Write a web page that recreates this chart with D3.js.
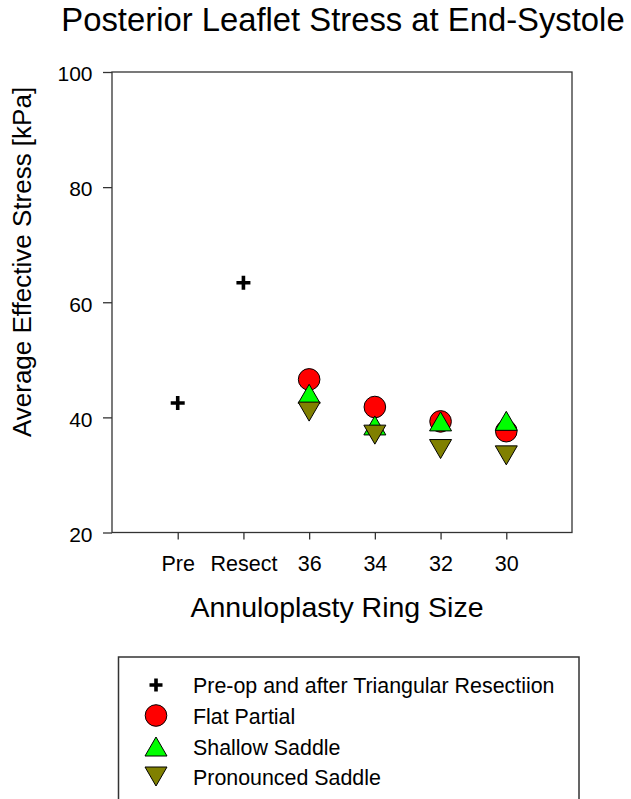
<!DOCTYPE html>
<html><head><meta charset="utf-8">
<script src="https://cdn.jsdelivr.net/npm/d3@7"></script>
<style>body{margin:0;background:#fff}svg{display:block}text{font-family:"Liberation Sans",Arial,sans-serif;fill:#000}</style>
</head><body>
<script>
const categories = ["Pre","Resect","36","34","32","30"];
const crossValues = [42.5, 63.4, null, null, null, null];
const flatPartial = [null, null, 46.6, 41.8, 39.3, 37.6];
const shallowSaddle = [null, null, 44.1, 38.6, 39.3, 39.4];
const pronouncedSaddle = [null, null, 41.0, 37.0, 34.5, 33.4];
const yTicks = [20, 40, 60, 80, 100];
const legendLabels = ["Pre-op and after Triangular Resectiion","Flat Partial","Shallow Saddle","Pronounced Saddle"];

const W = 631, H = 799;
const svg = d3.select("body").append("svg").attr("width", W).attr("height", H);
const L = 112, R = 572, T = 72, B = 532.5;
const x = d3.scaleLinear().domain([-1, categories.length]).range([L, R]);
const y = d3.scaleLinear().domain([20, 100]).range([B, T]);

// frame
svg.append("rect").attr("x", L).attr("y", T).attr("width", R - L).attr("height", B - T)
  .attr("fill", "none").attr("stroke", "#333").attr("stroke-width", 1.3);

const yAxis = d3.axisLeft(y).tickValues(yTicks).tickSize(9).tickPadding(10.5).tickFormat(d3.format("d"));
const gy = svg.append("g").attr("transform", `translate(${L},0)`).call(yAxis);
gy.select(".domain").remove();
gy.selectAll("line").attr("stroke", "#333").attr("stroke-width", 1.3);
gy.selectAll("text").style("font-size", "21px").attr("dy", "0.42em").attr("font-family", null);

const xAxis = d3.axisBottom(x).tickValues(d3.range(categories.length)).tickSize(7).tickPadding(13)
  .tickFormat(i => categories[i]);
const gx = svg.append("g").attr("transform", `translate(0,${B})`).call(xAxis);
gx.select(".domain").remove();
gx.selectAll("line").attr("stroke", "#333").attr("stroke-width", 1.3);
gx.selectAll("text").style("font-size", "21.5px").attr("y", 38.2).attr("dy", 0).attr("font-family", null);

// titles
svg.append("text").attr("x", 343).attr("y", 30.5).attr("text-anchor", "middle")
  .style("font-size", "32.8px").text("Posterior Leaflet Stress at End-Systole");
svg.append("text").attr("x", 337).attr("y", 617).attr("text-anchor", "middle")
  .style("font-size", "28.5px").text("Annuloplasty Ring Size");
svg.append("text").attr("transform", `translate(31,262) rotate(-90)`).attr("text-anchor", "middle")
  .style("font-size", "26px").text("Average Effective Stress [kPa]");

// symbols
const crossPath = (s) => { const a = s/2, t = 1.8; return `M${-a},${-t}H${-t}V${-a}H${t}V${-t}H${a}V${t}H${t}V${a}H${-t}V${t}H${-a}Z`; };
const upTri = `M0,-9.5L11,9.5L-11,9.5Z`;
const downTri = `M0,9.5L11,-9.5L-11,-9.5Z`;

function drawSeries(vals, kind) {
  const g = svg.append("g");
  vals.forEach((v, i) => {
    if (v == null) return;
    const cx = x(i), cy = y(v);
    if (kind === "cross") g.append("path").attr("d", crossPath(14)).attr("transform", `translate(${cx},${cy})`).attr("fill", "#000");
    if (kind === "circle") g.append("circle").attr("cx", cx).attr("cy", cy).attr("r", 10.8).attr("fill", "#ff0000").attr("stroke", "#000").attr("stroke-width", 1);
    if (kind === "up") g.append("path").attr("d", upTri).attr("transform", `translate(${cx},${cy})`).attr("fill", "#00ff00").attr("stroke", "#000").attr("stroke-width", 1);
    if (kind === "down") g.append("path").attr("d", downTri).attr("transform", `translate(${cx},${cy})`).attr("fill", "#808000").attr("stroke", "#000").attr("stroke-width", 1);
  });
}
drawSeries(crossValues, "cross");
drawSeries(flatPartial, "circle");
drawSeries(shallowSaddle, "up");
drawSeries(pronouncedSaddle, "down");

// legend
const lg = svg.append("g");
lg.append("rect").attr("x", 118.5).attr("y", 657).attr("width", 460.5).attr("height", 160)
  .attr("fill", "none").attr("stroke", "#333").attr("stroke-width", 1.5);
const kinds = ["cross","circle","up","down"];
const rowY = [685, 715.5, 746.5, 776.5];
kinds.forEach((k, i) => {
  const cx = 156, cy = rowY[i];
  if (k === "cross") lg.append("path").attr("d", crossPath(13)).attr("transform", `translate(${cx},${cy})`).attr("fill", "#000");
  if (k === "circle") lg.append("circle").attr("cx", cx).attr("cy", cy).attr("r", 10.8).attr("fill", "#ff0000").attr("stroke", "#000");
  if (k === "up") lg.append("path").attr("d", upTri).attr("transform", `translate(${cx},${cy})`).attr("fill", "#00ff00").attr("stroke", "#000");
  if (k === "down") lg.append("path").attr("d", downTri).attr("transform", `translate(${cx},${cy})`).attr("fill", "#808000").attr("stroke", "#000");
  lg.append("text").attr("x", 193).attr("y", cy + 8).style("font-size", "21.4px").text(legendLabels[i]);
});
</script>
</body></html>
